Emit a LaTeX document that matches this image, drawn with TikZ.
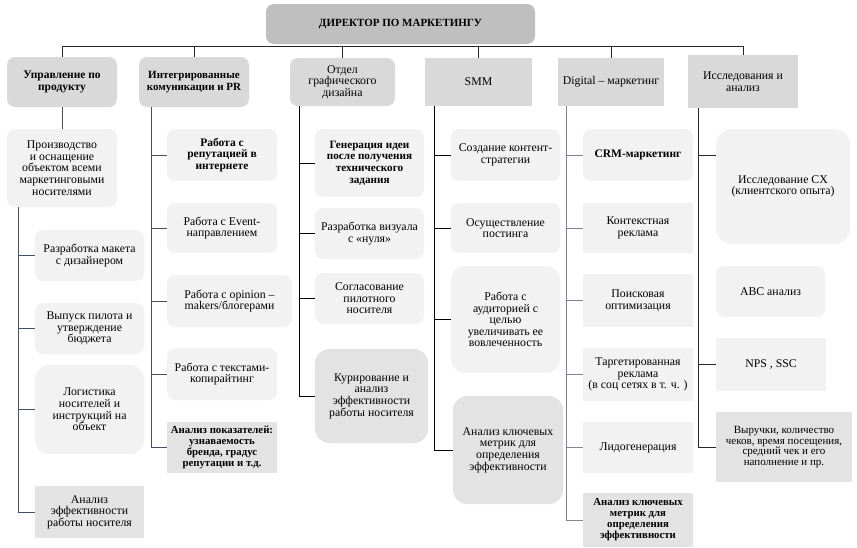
\documentclass[tikz,border=0pt]{standalone}
\usepackage{fontspec}
\setmainfont{Liberation Serif}
\usepackage{tikz}
\usepackage{color,xcolor}
\definecolor{dr}{HTML}{BFBFBF}
\definecolor{hd}{HTML}{D9D9D9}
\definecolor{lt}{HTML}{F2F2F2}
\definecolor{dk}{HTML}{E3E3E3}
\definecolor{ln}{HTML}{44506A}
\definecolor{lg}{HTML}{7D8599}
\definecolor{bk}{HTML}{262626}

\begin{document}
\begin{tikzpicture}[x=1pt,y=-1pt,line width=0.8pt]
            \tikzstyle{every node}=[font=\fontsize{11.8}{11.6}\selectfont,align=center,inner sep=0pt]
            \tikzstyle{rbox}=[fill=lt,rounded corners=8pt]
            \tikzstyle{sbox}=[fill=lt]
            \tikzset{sz/.style 2 args={minimum width=#1pt,minimum height=#2pt}}
            \useasboundingbox (0,0) rectangle (857,547);
            % director and heads
            \node[fill=dr,rounded corners=8pt,sz={269}{40},font=\fontsize{11}{12}\selectfont\bfseries] (dir) at (400.5,24) {ДИРЕКТОР ПО МАРКЕТИНГУ};
            \node[fill=hd,rounded corners=8pt,sz={110}{50},font=\fontsize{11.5}{12}\selectfont\bfseries] (h1) at (62,82) {Управление по\\продукту};
            \node[fill=hd,rounded corners=8pt,sz={110}{50},font=\fontsize{11}{12}\selectfont\bfseries] (h2) at (194,82) {Интегрированные\\комуникации и PR};
            \node[fill=hd,rounded corners=8pt,sz={105}{48}] (h3) at (342.5,82) {Отдел\\графического\\дизайна};
            \node[fill=hd,sz={107}{48}] (h4) at (478.5,82) {SMM};
            \node[fill=hd,sz={106}{48}] (h5) at (611,82) {Digital – маркетинг};
            \node[fill=hd,sz={110}{53}] (h6) at (743,81.5) {Исследования и\\анализ};
            % column 1
            \node[rbox,sz={110}{78}] (c11) at (62,168) {Производство\\и оснащение\\объектом всеми\\маркетинговыми\\носителями};
            \node[rbox,sz={109}{51}] (c12) at (89.5,255.5) {Разработка макета\\с дизайнером};
            \node[rbox,sz={109}{51}] (c13) at (89.5,328.5) {Выпуск пилота и\\утверждение\\бюджета};
            \node[rbox,rounded corners=14pt,sz={109}{89}] (c14) at (89.5,409.5) {Логистика\\носителей и\\инструкций на\\объект};
            \node[fill=dk,sz={109}{52}] (c15) at (89.5,512) {Анализ\\эффективности\\работы носителя};
            % column 2
            \node[rbox,sz={110}{52},font=\fontsize{11.5}{11.6}\selectfont\bfseries] (c21) at (222,155) {Работа с\\репутацией в\\интернете};
            \node[rbox,sz={110}{50}] (c22) at (222,228) {Работа с Event-\\направлением};
            \node[rbox,sz={125}{52}] (c23) at (229.5,301) {Работа с opinion –\\makers/блогерами};
            \node[rbox,sz={110}{52}] (c24) at (222,374) {Работа с текстами-\\копирайтинг};
            \node[fill=dk,sz={110}{51},font=\fontsize{10.8}{11}\selectfont\bfseries] (c25) at (222,447.5) {Анализ показателей:\\узнаваемость\\бренда, градус\\репутации и т.д.};
            % column 3
            \node[rbox,sz={109}{68},font=\fontsize{11.2}{11.6}\selectfont\bfseries] (c31) at (369.5,163) {Генерация идеи\\после получения\\технического\\задания};
            \node[rbox,sz={109}{51}] (c32) at (369.5,233.5) {Разработка визуала\\с «нуля»};
            \node[rbox,sz={109}{51}] (c33) at (369.5,298.5) {Согласование\\пилотного\\носителя};
            \node[fill=dk,rounded corners=14pt,sz={113}{94}] (c34) at (371.5,396) {Курирование и\\анализ\\эффективности\\работы носителя};
            % column 4
            \node[rbox,sz={109}{52}] (c41) at (505.5,155) {Создание контент-\\стратегии};
            \node[rbox,sz={109}{50}] (c42) at (505.5,228) {Осуществление\\постинга};
            \node[rbox,rounded corners=14pt,sz={109}{107}] (c43) at (505.5,319.5) {Работа с\\аудиторией с\\целью\\увеличивать ее\\вовлеченность};
            \node[fill=dk,rounded corners=14pt,sz={110}{108}] (c44) at (508,450) {Анализ ключевых\\метрик для\\определения\\эффективности};
            % column 5
            \node[rbox,sz={110}{52},font=\fontsize{11.5}{11.6}\selectfont\bfseries] (c51) at (638,155) {CRM-маркетинг};
            \node[sbox,sz={110}{50}] (c52) at (638,228) {Контекстная\\реклама};
            \node[sbox,sz={110}{53}] (c53) at (638,300.5) {Поисковая\\оптимизация};
            \node[sbox,sz={110}{53}] (c54) at (638,374.5) {Таргетированная\\реклама\\(в соц сетях в т. ч. )};
            \node[sbox,sz={110}{51}] (c55) at (638,447.5) {Лидогенерация};
            \node[fill=dk,sz={110}{54},font=\fontsize{10.8}{11}\selectfont\bfseries] (c56) at (638,520) {Анализ ключевых\\метрик для\\определения\\эффективности};
            % column 6
            \node[rbox,rounded corners=16pt,sz={134}{115}] (c61) at (783,186.5) {Исследование CX\\(клиентского опыта)};
            \node[rbox,sz={109}{51}] (c62) at (770.5,291.5) {ABC анализ};
            \node[sbox,sz={110}{53}] (c63) at (771,364.5) {NPS , SSC};
            \node[fill=dk,sz={136}{70},font=\fontsize{11}{10.5}\selectfont] (c64) at (784,447) {Выручки, количество\\чеков, время посещения,\\средний чек и его\\наполнение и пр.};
            % connectors
            \coordinate (bus) at (0,46);
            \draw[bk] (bus -| h1.north) -- (bus -| h6.north);
            \foreach \n in {h1,h2,h3,h4,h5,h6}
              \draw[bk] (bus -| \n.north) -- (\n.north);
            \coordinate (t1) at (18,0);
            \coordinate (t2) at (151,0);
            \coordinate (t3) at (299,0);
            \coordinate (t4) at (434,0);
            \coordinate (t5) at (566,0);
            \coordinate (t6) at (698,0);
            \draw[ln] (h1.south) -- (c11.north);
            \draw[ln] (t1 |- c11.south) |- (c15.west);
            \foreach \i in {2,3,4} \draw[ln] (t1 |- c1\i.west) -- (c1\i.west);
            \draw[ln] (t2 |- h2.south) |- (c25.west);
            \foreach \i in {1,2,3,4} \draw[ln] (t2 |- c2\i.west) -- (c2\i.west);
            \draw[black] (t3 |- h3.south) |- (c34.west);
            \foreach \i in {1,2,3} \draw[black] (t3 |- c3\i.west) -- (c3\i.west);
            \draw[black] (t4 |- h4.south) |- (c44.west);
            \foreach \i in {1,2,3} \draw[black] (t4 |- c4\i.west) -- (c4\i.west);
            \draw[lg] (t5 |- h5.south) |- (c56.west);
            \foreach \i in {1,2,3,4,5} \draw[lg] (t5 |- c5\i.west) -- (c5\i.west);
            \path (c61.west) ++(0,-31.5) coordinate (c61b);
            \draw[bk] (t6 |- h6.south) |- (c64.west);
            \draw[bk] (t6 |- c61b) -- (c61b);
            \draw[bk] (t6 |- c63.west) -- (c63.west);
          \end{tikzpicture}
\end{document}
